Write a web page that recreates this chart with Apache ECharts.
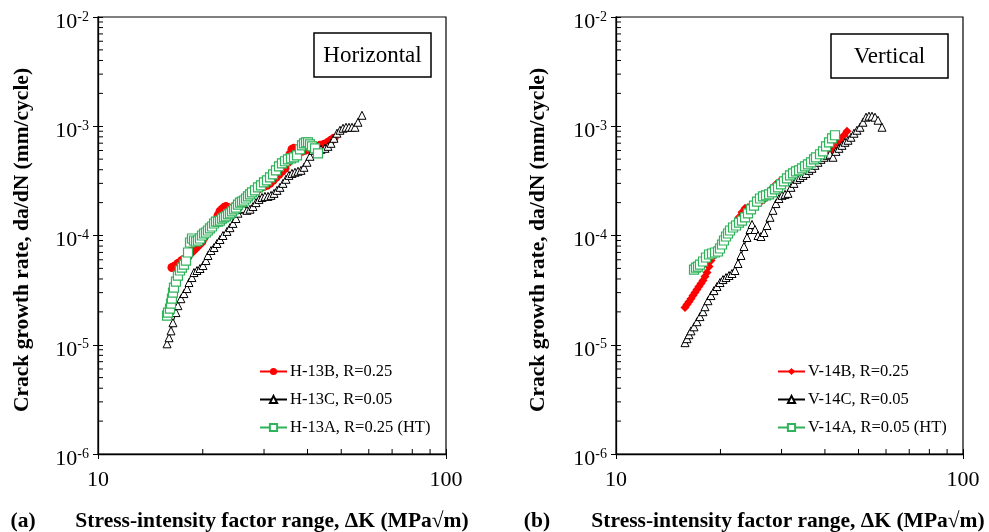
<!DOCTYPE html>
<html><head><meta charset="utf-8">
<script src="https://cdn.jsdelivr.net/npm/echarts@6/dist/echarts.min.js"></script>
<style>html,body{margin:0;padding:0;background:#fff}#c{width:989px;height:532px}</style>
</head><body><div id="c"></div>
<script>
// ---- Data: [ΔK (MPa√m), da/dN (mm/cycle)] ----
const H13B = [[16.31,5.09e-5],[16.53,5.20e-5],[16.75,5.31e-5],[16.97,5.54e-5],[17.20,5.66e-5],[17.43,5.90e-5],[17.66,6.03e-5],[17.90,6.15e-5],[18.14,6.42e-5],[18.38,6.84e-5],[18.62,7.14e-5],[18.87,7.45e-5],[19.13,7.76e-5],[19.38,8.10e-5],[19.64,8.45e-5],[19.90,8.81e-5],[20.17,9.59e-5],[20.43,1.043e-4],[20.70,1.088e-4],[20.98,1.135e-4],[21.26,1.209e-4],[21.55,1.288e-4],[21.83,1.37e-4],[22.13,1.53e-4],[22.42,1.664e-4],[22.72,1.736e-4],[23.02,1.80e-4],[23.32,1.84e-4],[23.64,1.80e-4],[23.95,1.736e-4],[24.27,1.736e-4],[24.60,1.80e-4],[24.92,1.88e-4],[25.25,1.96e-4],[25.59,2.00e-4],[26.10,2.09e-4],[26.63,2.23e-4],[27.16,2.38e-4],[27.70,2.48e-4],[28.26,2.54e-4],[28.83,2.645e-4],[29.40,2.76e-4],[29.99,2.82e-4],[30.59,2.88e-4],[31.21,3.00e-4],[31.84,3.20e-4],[32.47,3.40e-4],[33.12,3.63e-4],[33.78,3.87e-4],[34.46,4.12e-4],[35.15,4.68e-4],[35.62,5.54e-4],[36.09,6.15e-4],[36.58,6.28e-4],[37.06,6.02e-4],[37.81,5.77e-4],[38.57,5.89e-4],[39.34,6.02e-4],[40.13,6.15e-4],[41.20,6.28e-4],[42.31,6.41e-4],[43.44,6.69e-4],[44.60,6.83e-4],[45.81,7.13e-4],[46.73,7.44e-4],[47.65,7.76e-4]];
const H13C = [[15.79,1.02e-5],[16.00,1.16e-5],[16.21,1.34e-5],[16.42,1.59e-5],[16.75,1.97e-5],[16.97,2.28e-5],[17.31,2.64e-5],[17.66,2.94e-5],[18.02,3.27e-5],[18.26,3.71e-5],[18.62,4.12e-5],[18.87,4.58e-5],[19.25,4.78e-5],[19.64,4.99e-5],[20.03,5.31e-5],[20.43,5.90e-5],[20.70,6.56e-5],[21.12,7.29e-5],[21.55,7.76e-5],[21.98,8.45e-5],[22.42,9.19e-5],[22.87,1.0e-4],[23.48,1.09e-4],[23.95,1.18e-4],[24.43,1.29e-4],[24.92,1.43e-4],[25.25,1.60e-4],[25.76,1.74e-4],[26.28,1.77e-4],[26.80,1.70e-4],[27.34,1.74e-4],[27.89,1.84e-4],[28.45,2.00e-4],[29.02,2.14e-4],[29.60,2.23e-4],[30.19,2.28e-4],[30.80,2.28e-4],[31.42,2.33e-4],[32.05,2.43e-4],[32.69,2.59e-4],[33.34,2.76e-4],[34.01,3.00e-4],[34.69,3.27e-4],[35.39,3.55e-4],[36.09,3.70e-4],[36.82,3.79e-4],[37.56,3.87e-4],[38.31,3.95e-4],[39.08,4.21e-4],[39.86,4.68e-4],[40.66,5.31e-4],[41.48,6.02e-4],[42.59,6.15e-4],[43.73,6.15e-4],[44.90,6.28e-4],[45.81,6.55e-4],[46.73,6.98e-4],[47.65,7.76e-4],[48.61,8.63e-4],[49.59,9.19e-4],[50.59,9.59e-4],[51.60,9.79e-4],[52.63,9.79e-4],[53.69,9.79e-4],[54.76,9.79e-4],[55.86,1.088e-3],[57.35,1.26e-3]];
const H13A = [[15.79,1.85e-5],[15.89,1.965e-5],[16.10,2.14e-5],[16.21,2.38e-5],[16.31,2.64e-5],[16.42,3.00e-5],[16.53,3.34e-5],[16.75,3.79e-5],[16.97,4.30e-5],[17.20,4.78e-5],[17.43,5.09e-5],[17.66,5.42e-5],[17.90,5.90e-5],[18.14,6.99e-5],[18.38,8.63e-5],[18.62,9.39e-5],[18.87,9.00e-5],[19.13,8.81e-5],[19.38,9.00e-5],[19.64,9.39e-5],[19.90,1.0e-4],[20.17,1.043e-4],[20.43,1.065e-4],[20.70,1.111e-4],[20.98,1.16e-4],[21.26,1.209e-4],[21.55,1.288e-4],[21.83,1.341e-4],[22.13,1.341e-4],[22.42,1.37e-4],[22.72,1.43e-4],[23.02,1.467e-4],[23.32,1.498e-4],[23.64,1.563e-4],[23.95,1.596e-4],[24.27,1.664e-4],[24.60,1.736e-4],[24.92,1.80e-4],[25.25,1.92e-4],[25.59,2.00e-4],[25.93,2.046e-4],[26.28,2.09e-4],[26.63,2.18e-4],[26.98,2.28e-4],[27.34,2.38e-4],[27.70,2.48e-4],[28.26,2.59e-4],[28.83,2.76e-4],[29.40,2.88e-4],[29.99,3.07e-4],[30.59,3.20e-4],[31.21,3.40e-4],[31.84,3.63e-4],[32.47,3.95e-4],[33.12,4.30e-4],[33.78,4.58e-4],[34.46,4.78e-4],[35.15,4.98e-4],[35.86,5.09e-4],[36.58,5.20e-4],[37.31,5.42e-4],[38.06,6.15e-4],[38.57,6.69e-4],[39.08,6.98e-4],[39.60,7.13e-4],[40.13,7.13e-4],[40.66,6.83e-4],[41.20,6.55e-4],[42.03,6.28e-4],[42.87,5.65e-4]];
const V14B = [[15.81,2.19e-5],[16.02,2.33e-5],[16.23,2.48e-5],[16.45,2.64e-5],[16.67,2.82e-5],[16.89,3.00e-5],[17.12,3.20e-5],[17.34,3.41e-5],[17.58,3.63e-5],[17.81,3.87e-5],[18.05,4.21e-5],[18.29,4.58e-5],[18.54,5.20e-5],[18.78,5.90e-5],[19.04,6.42e-5],[19.29,6.99e-5],[19.68,7.76e-5],[20.07,8.45e-5],[20.47,9.19e-5],[20.89,1.0e-4],[21.31,1.111e-4],[21.74,1.209e-4],[22.18,1.313e-4],[22.62,1.467e-4],[23.07,1.63e-4],[23.54,1.773e-4],[24.01,1.80e-4],[24.66,1.88e-4],[25.32,1.96e-4],[26.00,2.00e-4],[26.70,2.135e-4],[27.42,2.43e-4],[28.16,2.70e-4],[28.91,2.94e-4],[29.69,3.13e-4],[30.69,3.27e-4],[31.73,3.40e-4],[32.80,3.63e-4],[33.91,3.79e-4],[35.05,4.03e-4],[36.23,4.30e-4],[37.46,4.58e-4],[38.72,4.98e-4],[40.03,5.42e-4],[41.38,5.89e-4],[42.49,6.28e-4],[43.63,6.98e-4],[44.50,7.60e-4],[45.41,8.27e-4],[46.32,9.00e-4]];
const V14C = [[15.81,1.045e-5],[16.02,1.137e-5],[16.23,1.236e-5],[16.45,1.34e-5],[16.78,1.459e-5],[17.12,1.625e-5],[17.46,1.81e-5],[17.81,2.007e-5],[18.05,2.23e-5],[18.41,2.53e-5],[18.78,2.82e-5],[19.16,3.13e-5],[19.55,3.41e-5],[19.94,3.71e-5],[20.34,3.95e-5],[20.75,4.12e-5],[21.17,4.30e-5],[21.59,4.49e-5],[22.03,4.78e-5],[22.47,5.54e-5],[22.92,6.56e-5],[23.38,7.93e-5],[23.85,9.59e-5],[24.33,1.135e-4],[24.66,1.261e-4],[25.15,1.135e-4],[25.66,1.0e-4],[26.17,9.79e-5],[26.70,1.065e-4],[27.24,1.235e-4],[27.79,1.467e-4],[28.34,1.70e-4],[28.91,1.96e-4],[29.49,2.18e-4],[30.09,2.33e-4],[30.69,2.38e-4],[31.31,2.43e-4],[31.94,2.76e-4],[32.58,3.00e-4],[33.24,3.27e-4],[33.91,3.40e-4],[34.59,3.55e-4],[35.28,3.70e-4],[35.99,3.95e-4],[36.71,4.12e-4],[37.46,4.39e-4],[38.21,4.68e-4],[38.98,4.98e-4],[39.77,5.20e-4],[40.56,5.42e-4],[41.38,5.54e-4],[42.21,5.20e-4],[43.05,5.89e-4],[43.92,6.28e-4],[44.80,6.69e-4],[45.71,7.13e-4],[46.63,7.44e-4],[47.56,7.93e-4],[48.52,8.63e-4],[49.49,9.19e-4],[50.49,9.79e-4],[51.50,1.088e-3],[52.54,1.21e-3],[53.59,1.236e-3],[54.67,1.236e-3],[55.77,1.21e-3],[56.90,1.135e-3],[58.43,9.79e-4]];
const V14A = [[16.78,4.88e-5],[17.00,5.09e-5],[17.23,5.20e-5],[17.46,5.42e-5],[17.81,5.78e-5],[18.17,6.29e-5],[18.54,6.70e-5],[18.91,6.84e-5],[19.29,6.99e-5],[19.68,7.14e-5],[19.94,7.60e-5],[20.21,8.27e-5],[20.47,9.00e-5],[20.75,9.79e-5],[21.03,1.043e-4],[21.31,1.111e-4],[21.74,1.184e-4],[22.18,1.235e-4],[22.62,1.313e-4],[23.07,1.37e-4],[23.54,1.467e-4],[24.01,1.596e-4],[24.49,1.736e-4],[24.98,1.88e-4],[25.49,2.046e-4],[26.00,2.18e-4],[26.52,2.28e-4],[27.06,2.33e-4],[27.61,2.38e-4],[28.16,2.48e-4],[28.72,2.645e-4],[29.30,2.76e-4],[29.89,2.94e-4],[30.49,3.13e-4],[31.10,3.34e-4],[31.73,3.55e-4],[32.37,3.70e-4],[33.02,3.87e-4],[33.69,3.95e-4],[34.36,4.12e-4],[35.05,4.30e-4],[35.75,4.48e-4],[36.47,4.68e-4],[37.21,4.98e-4],[37.71,5.20e-4],[38.72,5.54e-4],[39.50,5.89e-4],[40.30,6.55e-4],[41.11,7.13e-4],[41.93,7.76e-4],[42.77,8.27e-4]];

const legendLeft = ['H-13B, R=0.25', 'H-13C, R=0.05', 'H-13A, R=0.25 (HT)'];
const legendRight = ['V-14B, R=0.25', 'V-14C, R=0.05', 'V-14A, R=0.05 (HT)'];
const panelTitles = ['Horizontal', 'Vertical'];
const panelTags = ['(a)', '(b)'];
const xAxisTitle = 'Stress-intensity factor range, \u0394K (MPa\u221Am)';
const yAxisTitle = 'Crack growth rate, da/dN (mm/cycle)';
const xRange = [10, 100];
const yRange = [1e-6, 1e-2];
const xMinorTicks = [20, 30, 40, 50, 60, 70, 80, 90];
const yMinorTicks = [2e-6,3e-6,4e-6,5e-6,6e-6,7e-6,8e-6,9e-6,
                     2e-5,3e-5,4e-5,5e-5,6e-5,7e-5,8e-5,9e-5,
                     2e-4,3e-4,4e-4,5e-4,6e-4,7e-4,8e-4,9e-4,
                     2e-3,3e-3,4e-3,5e-3,6e-3,7e-3,8e-3,9e-3];

const FONT = "'Liberation Serif','Times New Roman',serif";
const chart = echarts.init(document.getElementById('c'), null, {renderer: 'canvas'});

const gridBoxes = [
  {left: 98, top: 17, width: 348, height: 437},
  {left: 616, top: 17, width: 347, height: 437}
];

function xAxesFor(gi) {
  return [
    {type: 'log', logBase: 10, min: xRange[0], max: xRange[1], gridIndex: gi, position: 'bottom',
     axisLine: {onZero: false, lineStyle: {color: '#000', width: 1.3}},
     axisTick: {inside: true, length: 5, lineStyle: {color: '#000', width: 1}},
     splitLine: {show: false},
     axisLabel: {fontFamily: FONT, fontSize: 22, color: '#000', margin: 15,
       formatter: v => String(Math.round(v))}},
    {type: 'log', logBase: 10, min: xRange[0], max: xRange[1], gridIndex: gi, position: 'bottom',
     axisLine: {show: false, onZero: false},
     axisTick: {inside: false, length: 5, lineStyle: {color: '#000', width: 1}},
     axisLabel: {show: false}, splitLine: {show: false}}
  ];
}
function yAxesFor(gi) {
  return [
    {type: 'log', logBase: 10, min: yRange[0], max: yRange[1], gridIndex: gi, position: 'left',
     axisLine: {onZero: false, lineStyle: {color: '#000', width: 1.3}},
     axisTick: {inside: true, length: 5, lineStyle: {color: '#000', width: 1}},
     splitLine: {show: false},
     axisLabel: {margin: 9, padding: [10, 0, 0, 0],
       formatter: v => '{b|10}{s|' + Math.round(Math.log10(v)) + '}',
       rich: {
         b: {fontFamily: FONT, fontSize: 22, color: '#000', lineHeight: 24},
         s: {fontFamily: FONT, fontSize: 14, color: '#000', verticalAlign: 'top', lineHeight: 14}
       }}},
    {type: 'log', logBase: 10, min: yRange[0], max: yRange[1], gridIndex: gi, position: 'left',
     axisLine: {show: false, onZero: false},
     axisTick: {inside: false, length: 5, lineStyle: {color: '#000', width: 1}},
     axisLabel: {show: false}, splitLine: {show: false}}
  ];
}

// minor ticks drawn through the axes' own log scales
function minorTickSeries(gi) {
  return [
    {type: 'custom', coordinateSystem: 'cartesian2d', xAxisIndex: gi * 2, yAxisIndex: gi * 2, silent: true,
     animation: false, z: 5,
     data: xMinorTicks.map(v => [v, yRange[0]]),
     renderItem: (params, api) => {
       const p = api.coord([api.value(0), api.value(1)]);
       return {type: 'line', shape: {x1: p[0], y1: p[1], x2: p[0], y2: p[1] - 5},
               style: {stroke: '#000', lineWidth: 1}};
     }},
    {type: 'custom', coordinateSystem: 'cartesian2d', xAxisIndex: gi * 2, yAxisIndex: gi * 2, silent: true,
     animation: false, z: 5,
     data: yMinorTicks.map(v => [xRange[0], v]),
     renderItem: (params, api) => {
       const p = api.coord([api.value(0), api.value(1)]);
       return {type: 'line', shape: {x1: p[0], y1: p[1], x2: p[0] + 5, y2: p[1]},
               style: {stroke: '#000', lineWidth: 1}};
     }}
  ];
}

const RED = '#ff0000', GREEN = '#2fb35a', BLACK = '#000000';
function mk(name, data, gi, kind) {
  const s = {type: 'line', name: name, data: data, xAxisIndex: gi * 2, yAxisIndex: gi * 2,
    showSymbol: true, animation: false, emphasis: {disabled: true}, z: 3};
  if (kind === 'circle') {
    Object.assign(s, {symbol: 'circle', symbolSize: 9, lineStyle: {color: RED, width: 1}, itemStyle: {color: RED}});
  } else if (kind === 'diamond') {
    Object.assign(s, {symbol: 'diamond', symbolSize: 9, lineStyle: {color: RED, width: 1}, itemStyle: {color: RED}});
  } else if (kind === 'tri') {
    Object.assign(s, {symbol: 'triangle', symbolSize: 8, lineStyle: {color: BLACK, width: 1},
      itemStyle: {color: '#fff', borderColor: BLACK, borderWidth: 1}});
  } else {
    Object.assign(s, {symbol: 'rect', symbolSize: 9, lineStyle: {color: GREEN, width: 1},
      itemStyle: {color: '#fff', borderColor: GREEN, borderWidth: 1.2}});
  }
  return s;
}

function legendFor(names, left) {
  return {data: names, orient: 'vertical', left: left, top: 363, itemWidth: 27, itemHeight: 9,
    itemGap: 11, selectedMode: false, padding: 0,
    textStyle: {fontFamily: FONT, fontSize: 16.5, color: '#000', padding: [0, 0, 0, -2]}};
}

function boxGraphic(x, y, label) {
  return {type: 'group', children: [
    {type: 'rect', shape: {x: x, y: y, width: 117, height: 44},
     style: {fill: '#fff', stroke: '#000', lineWidth: 1.5}},
    {type: 'text', x: x + 58.5, y: y + 23,
     style: {text: label, font: '23px ' + FONT, fill: '#000', align: 'center', verticalAlign: 'middle',
             textAlign: 'center', textVerticalAlign: 'middle'}}
  ]};
}
function textG(x, y, txt, size, rot) {
  return {type: 'text', x: x, y: y, rotation: rot || 0,
    style: {text: txt, font: 'bold ' + size + 'px ' + FONT, fill: '#000', align: 'center',
            verticalAlign: 'middle', textAlign: 'center', textVerticalAlign: 'middle'}};
}

const option = {
  animation: false,
  backgroundColor: '#fff',
  grid: gridBoxes.map(g => Object.assign({show: true, borderColor: '#000', borderWidth: 1.2,
    backgroundColor: 'transparent', containLabel: false}, g)),
  xAxis: xAxesFor(0).concat(xAxesFor(1)),
  yAxis: yAxesFor(0).concat(yAxesFor(1)),
  legend: [legendFor(legendLeft, 259), legendFor(legendRight, 777)],
  series: [
    mk(legendLeft[0], H13B, 0, 'circle'),
    mk(legendLeft[1], H13C, 0, 'tri'),
    mk(legendLeft[2], H13A, 0, 'sq'),
    mk(legendRight[0], V14B, 1, 'diamond'),
    mk(legendRight[1], V14C, 1, 'tri'),
    mk(legendRight[2], V14A, 1, 'sq')
  ].concat(minorTickSeries(0), minorTickSeries(1)),
  graphic: [
    boxGraphic(314, 33, panelTitles[0]),
    boxGraphic(831, 34, panelTitles[1]),
    textG(22, 240, yAxisTitle, 21.5, Math.PI / 2),
    textG(538, 240, yAxisTitle, 21.5, Math.PI / 2),
    textG(272, 521, xAxisTitle, 21.5),
    textG(788, 521, xAxisTitle, 21.5),
    textG(23, 521, panelTags[0], 21.5),
    textG(537, 521, panelTags[1], 21.5)
  ]
};
chart.setOption(option);
</script>
</body></html>
